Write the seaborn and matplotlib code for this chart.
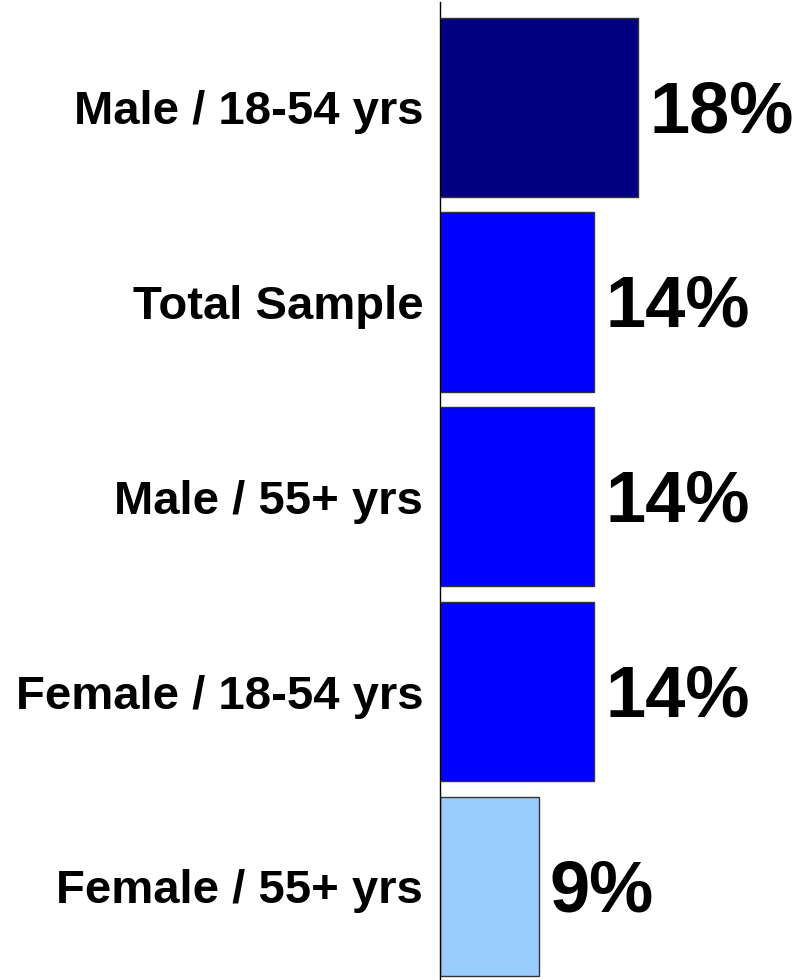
import matplotlib
matplotlib.use("Agg")
import matplotlib.pyplot as plt
import seaborn as sns
import pandas as pd

groups = ["Male / 18-54 yrs", "Total Sample", "Male / 55+ yrs",
          "Female / 18-54 yrs", "Female / 55+ yrs"]
values = [18, 14, 14, 14, 9]
colors = ["#000080", "#0000FF", "#0000FF", "#0000FF", "#99CCFF"]

sns.set_style("white")
plt.rcParams["font.family"] = ["Liberation Sans", "DejaVu Sans"]

df = pd.DataFrame({"group": groups, "value": values})

fig = plt.figure(figsize=(7.93, 9.80), dpi=100)
ax = fig.add_axes([440 / 793, 0, 1 - 440 / 793, 1 - 2 / 980])

sns.barplot(data=df, x="value", y="group", hue="group", palette=colors,
            order=groups, width=0.92, saturation=1, edgecolor="#333333",
            linewidth=1, legend=False, ax=ax)

ax.set_xlim(0, 353 / 11)
ax.set_ylim(4.48, -0.54)

for i, v in enumerate(values):
    ax.text(v + 1.0, i + 0.03, f"{v}%", fontsize=52, fontweight="bold",
            va="center", ha="left", color="black")

ax.set_xticks([])
ax.set_xlabel("")
ax.set_ylabel("")
ax.tick_params(axis="y", length=0, pad=12)
for lbl in ax.get_yticklabels():
    lbl.set_fontsize(34)
    lbl.set_fontweight("bold")
    lbl.set_color("black")

for side in ["top", "right", "bottom"]:
    ax.spines[side].set_visible(False)
ax.spines["left"].set_color("black")
ax.spines["left"].set_linewidth(1)

fig.savefig("out.png", dpi=100)
